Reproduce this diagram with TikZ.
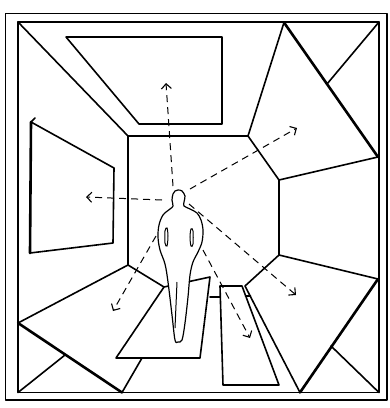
\documentclass[tikz,border=0pt]{standalone}
\usetikzlibrary{arrows.meta}
\begin{document}
\begin{tikzpicture}[x=1pt,y=-1pt,
  edge/.style={line width=1.6pt, line join=round, line cap=round},
  heavy/.style={line width=2.6pt, line cap=round},
  sight/.style={line width=1pt, dash pattern=on 7pt off 5pt,
    -{Straight Barb[length=5pt,width=10pt,line width=1.1pt]}},
  person/.style={line width=1.2pt, fill=white, line join=round},
  detail/.style={line width=1pt}]
\useasboundingbox (0,0) rectangle (390,408);

% frames
\draw[edge] (5.5,13.5) rectangle (387,400);
\coordinate (fTL) at (18,22);
\coordinate (fTR) at (379,22);
\coordinate (fBL) at (18,392.5);
\coordinate (fBR) at (379,392.5);
\draw[edge] (fTL) rectangle (fBR);

% back wall outline
\coordinate (bTL) at (128,136);
\coordinate (bTR) at (248,136);
\coordinate (bR1) at (279,180);
\coordinate (bR2) at (279,255);
\coordinate (bBL) at (128,265);
\draw[edge] (fTL) -- (bTL) -- (bBL);
\draw[edge] (bTL) -- (bTR);
\draw[edge] (bR1) -- (bR2);

% skylight in the ceiling
\draw[edge] (66,37) -- (222,37) -- (222,124) -- (139,124) -- cycle;

% tilted panel, upper right
\coordinate (pA) at (284,22.5);
\coordinate (pB) at (378,157);
\draw[edge] (pA) -- (bTR) -- (bR1) -- (pB);
\draw[heavy] (pA) -- (pB);
\draw[edge] (fTR) -- (327,84);

% tilted panel, lower right
\coordinate (qA) at (378,279);
\coordinate (qB) at (300,392.5);
\draw[edge] (bR2) -- (qA);
\draw[heavy] (qA) -- (qB);
\draw[edge] (bR2) -- (245,286) -- (qB);
\draw[edge] (fBR) -- (331,346);

% tilted panel, lower left
\coordinate (lA) at (18,323);
\coordinate (lB) at (122,392.5);
\draw[edge] (bBL) -- (lA);
\draw[heavy] (lA) -- (lB);
\draw[edge] (lB) -- (142,358);
\draw[edge] (fBL) -- (65,355);
\draw[edge] (bBL) -- (164,287);

% floor mats
\draw[edge] (164,287) -- (210,277) -- (200,358) -- (116,358) -- cycle;
\draw[edge] (220,286) -- (242,286) -- (279,385) -- (223,385) -- cycle;
\draw[edge] (210,297) -- (220,297);
\draw[edge] (245.5,296) -- (250.5,296);

% picture on the left wall
\draw[edge] (35,118) -- (31,122) -- (114,168) -- (113,243) -- (30,253);
\draw[heavy] (30,253) -- (31,122);

% standing figure, seen from behind
\draw[person] plot[smooth cycle, tension=0.55] coordinates {
  (178,190) (182,191) (185,196) (184,202) (184,206) (190,209) (197,213)
  (201,220) (203,230) (202,242) (198,252) (193,262) (190,275) (188,297)
  (185,323) (182,340) (178,342) (175,340) (172,315) (168,282) (165,264)
  (160,250) (158,237) (159,225) (163,215) (170,209) (173,206) (172,200)
  (173,194) (175,191)};
\draw[detail] plot[smooth cycle, tension=0.6] coordinates {
  (165,231) (167,228) (168,236) (167,246) (165,243)};
\draw[detail] plot[smooth cycle, tension=0.6] coordinates {
  (191,229) (193,231) (193,244) (191,246) (190,237)};
\draw[detail] (177,282) -- (175,328);

% lines of sight
\coordinate (sUp) at (173,186);
\coordinate (sLeft) at (162,200);
\coordinate (sUR) at (190,189);
\coordinate (sLL) at (156,236);
\coordinate (sLR) at (189,204);
\coordinate (sLR2) at (203,250);
\coordinate (tUp) at (166,83);
\coordinate (tLeft) at (86,197);
\coordinate (tUR) at (297,128);
\coordinate (tLL) at (113,311);
\coordinate (tLR) at (296,295);
\coordinate (tLR2) at (250,338);
\draw[sight] (sUp) -- (tUp);
\draw[sight] (sLeft) -- (tLeft);
\draw[sight] (sUR) -- (tUR);
\draw[sight] (sLL) -- (tLL);
\draw[sight] (sLR) -- (tLR);
\draw[sight] (sLR2) -- (tLR2);
\end{tikzpicture}
\end{document}
